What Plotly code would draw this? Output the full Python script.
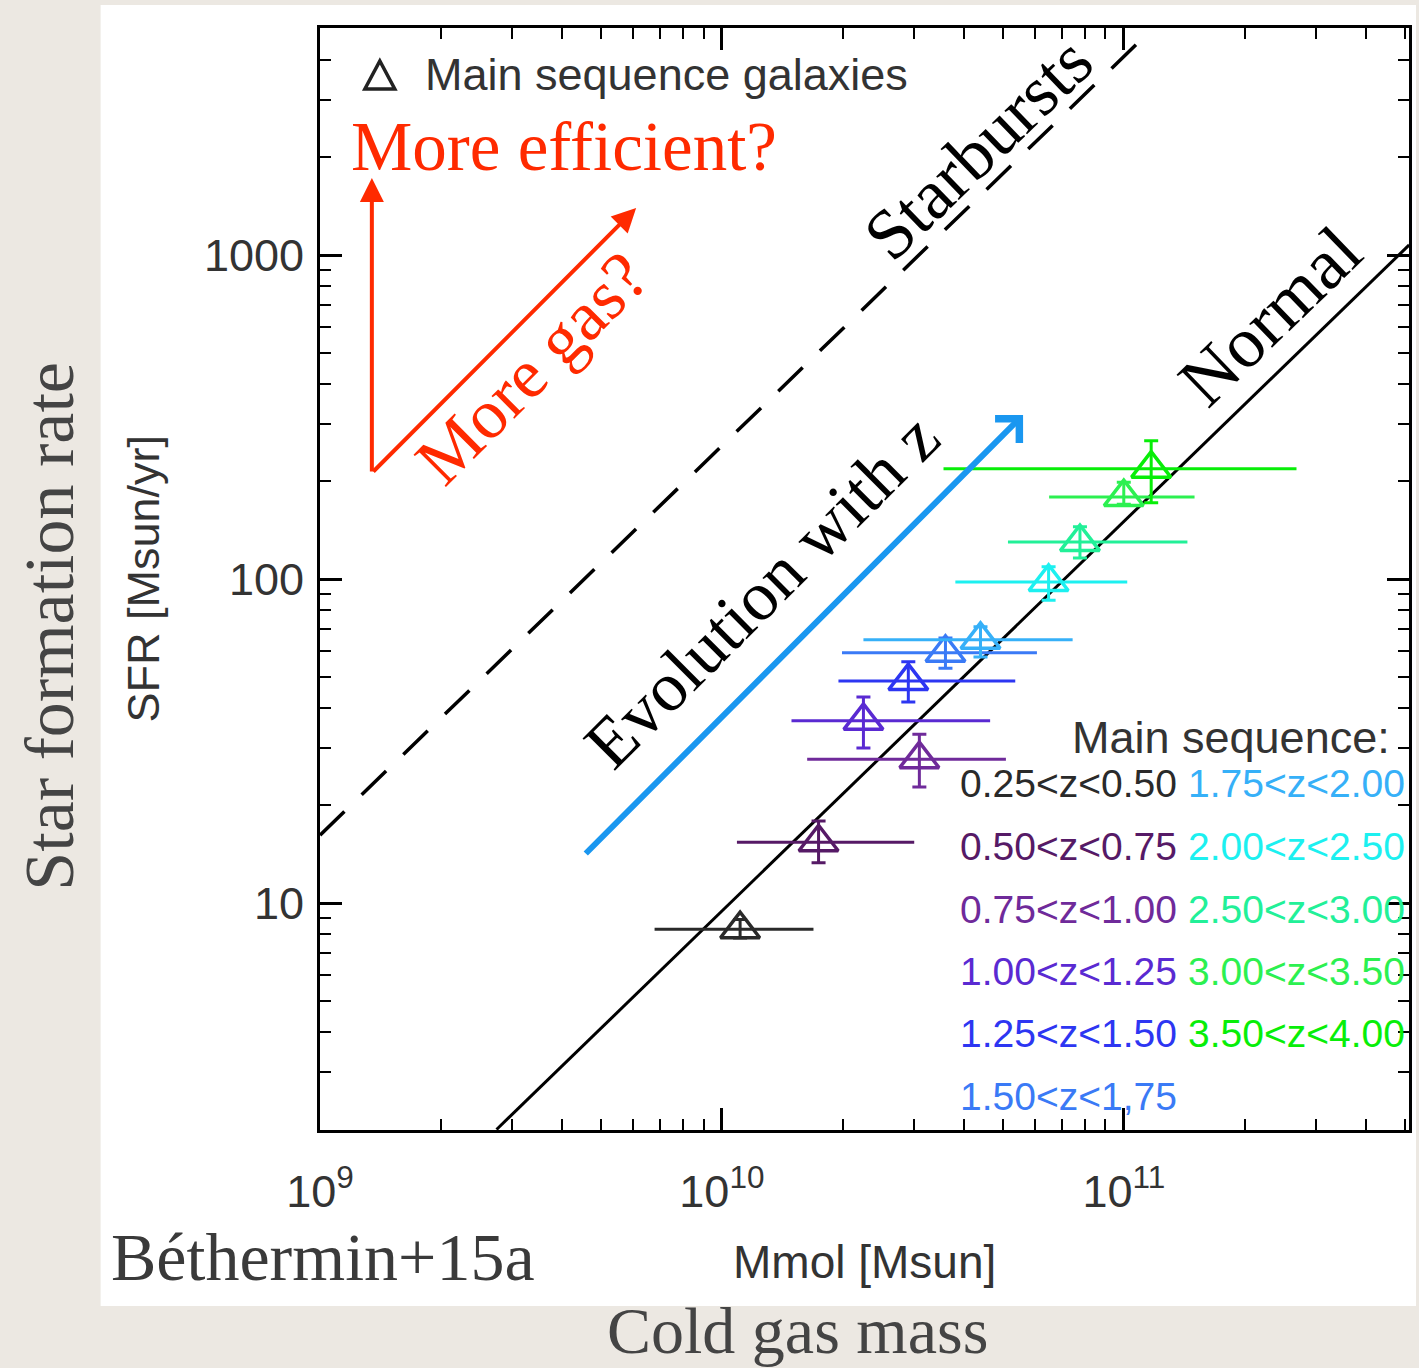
import plotly.graph_objects as go

# ---------------- data ----------------
z_labels = ["0.25<z<0.50", "0.50<z<0.75", "0.75<z<1.00", "1.00<z<1.25", "1.25<z<1.50",
            "1.50<z<1,75", "1.75<z<2.00", "2.00<z<2.50", "2.50<z<3.00", "3.00<z<3.50",
            "3.50<z<4.00"]
z_colors = ["#2a2a2a", "#561a66", "#6f2a9a", "#5a2ad2", "#2d36f2", "#3a7af6",
            "#36b0f8", "#1cf0f0", "#22f098", "#2cf050", "#08ee08"]

mmol = [1.11e10, 1.74e10, 3.10e10, 2.25e10, 2.91e10, 3.60e10, 4.40e10, 6.50e10, 7.78e10, 1.00e11, 1.17e11]
mmol_lo = [6.8e9, 1.09e10, 1.63e10, 1.49e10, 1.95e10, 1.99e10, 2.25e10, 3.81e10, 5.15e10, 6.52e10, 3.56e10]
mmol_hi = [1.69e10, 3.01e10, 5.09e10, 4.65e10, 5.37e10, 6.08e10, 7.46e10, 1.02e11, 1.44e11, 1.50e11, 2.69e11]
sfr = [8.3, 15.4, 27.8, 36.5, 48.4, 59.2, 64.9, 97.9, 130, 179, 219]
sfr_lo = [7.8, 13.3, 22.8, 30.1, 41.7, 53.0, 57.4, 86.0, 116, 170, 172]
sfr_hi = [8.9, 17.9, 33.2, 43.2, 55.5, 65.8, 71.2, 109, 145, 199, 267]

normal_mmol = [2.75e9, 5.13e11]
normal_sfr = [2.0, 1074]
starburst_mmol = [1.0e9, 1.18e11]
starburst_sfr = [16.2, 5000]

x_tick_vals = [1e9, 1e10, 1e11]
x_tick_text = ["10<sup>9</sup>", "10<sup>10</sup>", "10<sup>11</sup>"]
y_tick_vals = [10, 100, 1000]
y_tick_text = ["10", "100", "1000"]

# ---------------- figure ----------------
W, H = 1419, 1368
L, R, T, B = 320, 1412, 28, 1130


def P(px, py):
    return (px - L) / (R - L), (B - py) / (B - T)


SANS = "Liberation Sans, Arial, Helvetica, sans-serif"
SERIF = "Palatino Linotype, Book Antiqua, Palatino, Liberation Serif, serif"
GREY = "#333333"
RED = "#ff2a00"
BLUE = "#1a97f0"

fig = go.Figure()

fig.add_trace(go.Scatter(x=normal_mmol, y=normal_sfr, mode="lines",
                         line=dict(color="black", width=3), hoverinfo="skip"))
fig.add_trace(go.Scatter(x=starburst_mmol, y=starburst_sfr, mode="lines",
                         line=dict(color="black", width=3.5, dash="34px,24px"), hoverinfo="skip"))

for i in range(len(mmol)):
    fig.add_trace(go.Scatter(
        x=[mmol[i]], y=[sfr[i]], mode="markers", name=z_labels[i],
        marker=dict(symbol="triangle-up-open", size=34, color=z_colors[i],
                    line=dict(color=z_colors[i], width=3.5)),
        error_x=dict(type="data", symmetric=False, array=[mmol_hi[i] - mmol[i]],
                     arrayminus=[mmol[i] - mmol_lo[i]], color=z_colors[i], thickness=3, width=0),
        error_y=dict(type="data", symmetric=False, array=[sfr_hi[i] - sfr[i]],
                     arrayminus=[sfr[i] - sfr_lo[i]], color=z_colors[i], thickness=3, width=7),
    ))

annotations = []


def text(px, py, s, size, color, family, angle=0, xanchor="center"):
    x, y = P(px, py)
    annotations.append(dict(x=x, y=y, xref="paper", yref="paper", text=s, showarrow=False,
                            textangle=angle, xanchor=xanchor, yanchor="middle",
                            font=dict(size=size, color=color, family=family)))


def arrow(px0, py0, px1, py1, color, width, head, size):
    x0, y0 = P(px0, py0)
    x1, y1 = P(px1, py1)
    annotations.append(dict(x=x1, y=y1, ax=x0, ay=y0, xref="x domain", yref="y domain",
                            axref="x domain", ayref="y domain", text="", showarrow=True,
                            arrowhead=head, arrowsize=size, arrowwidth=width,
                            arrowcolor=color, standoff=0, startstandoff=0))


# IDL-style texts
text(423, 75, "Main sequence galaxies", 45, GREY, SANS, xanchor="left")
text(1395, 737, "Main sequence:", 45, GREY, SANS, xanchor="right")
rows = [783, 846, 909, 971, 1033, 1096]
for i, lab in enumerate(z_labels):
    if i < 6:
        text(960, rows[i], lab, 39, z_colors[i], SANS, xanchor="left")
    else:
        text(1188, rows[i - 6], lab, 39, z_colors[i], SANS, xanchor="left")
text(143, 578, "SFR [Msun/yr]", 45, GREY, SANS, angle=-90)
text(866, 1262, "Mmol [Msun]", 46, GREY, SANS)

# arrows
arrow(372, 473, 372, 178, RED, 4, 2, 1.2)
arrow(372, 473, 637, 208, RED, 4, 2, 1.2)
arrow(585, 855, 1025, 415, BLUE, 6, 4, 1.1)

# serif overlay texts
text(565, 147, "More efficient?", 69, RED, SERIF)
text(533, 368, "More gas?", 70, RED, SERIF, angle=-45)
text(980, 148, "Starbursts", 71, "black", SERIF, angle=-44)
text(1273, 316, "Normal", 72, "black", SERIF, angle=-44)
text(763, 590, "Evolution with z", 70, "black", SERIF, angle=-45)
text(108, 1257, "Béthermin+15a", 68, "#3a3a3a", SERIF, xanchor="left")
text(48, 626, "Star formation rate", 70, "#444444", SERIF, angle=-90)
text(799, 1330, "Cold gas mass", 66, "#444444", SERIF)

# white panel behind chart
px0, py0 = P(100, 1306)
px1, py1 = P(1419, 5)
shapes = [dict(type="rect", xref="paper", yref="paper", x0=px0, y0=py0, x1=px1, y1=py1,
               fillcolor="white", line=dict(width=0), layer="below")]
# open-triangle key symbol for "Main sequence galaxies"
tx = [P(365, 89), P(395, 89), P(380, 61)]
tri_path = "M{:.5f},{:.5f} L{:.5f},{:.5f} L{:.5f},{:.5f} Z".format(
    tx[0][0], tx[0][1], tx[1][0], tx[1][1], tx[2][0], tx[2][1])
shapes.append(dict(type="path", xref="paper", yref="paper", path=tri_path,
                   line=dict(color="#222222", width=3.5), fillcolor="rgba(0,0,0,0)"))

axis_common = dict(type="log", showline=True, linecolor="black", linewidth=3, mirror="allticks",
                   ticks="inside", tickcolor="black", tickwidth=2.5, showgrid=False, zeroline=False,
                   tickfont=dict(family=SANS, size=45, color=GREY),
                   minor=dict(ticks="inside", ticklen=11, tickwidth=2, tickcolor="black",
                              dtick="D1", showgrid=False))

fig.update_layout(
    width=W, height=H, autosize=False,
    margin=dict(l=L, r=W - R, t=T, b=H - B, pad=0),
    paper_bgcolor="#ece8e2", plot_bgcolor="white",
    showlegend=False,
    xaxis=dict(range=[9, 11.7097], tickmode="array", tickvals=x_tick_vals, ticktext=x_tick_text,
               ticklen=22, ticklabelstandoff=20, **axis_common),
    yaxis=dict(range=[0.2994, 3.7006], tickmode="array", tickvals=y_tick_vals, ticktext=y_tick_text,
               ticklen=22, ticklabelstandoff=4, **axis_common),
    annotations=annotations, shapes=shapes,
)

fig.write_html("out.html", config={"displayModeBar": False},
               post_script="document.body.style.margin='0';document.body.style.background='#ece8e2';")
